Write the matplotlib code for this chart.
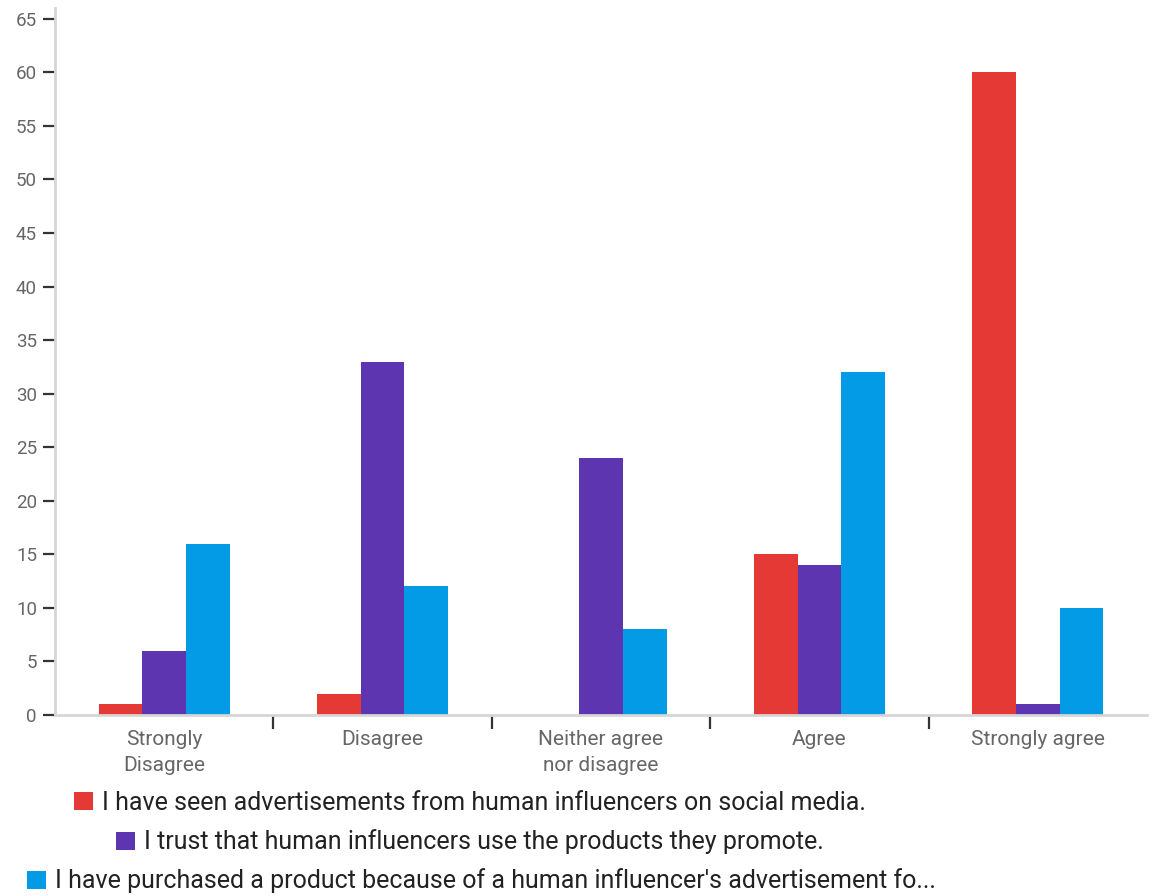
import matplotlib
matplotlib.use("Agg")
import matplotlib.pyplot as plt
import numpy as np
from matplotlib.patches import Patch

plt.rcParams['font.family'] = ['Roboto', 'DejaVu Sans']

categories = ["Strongly\nDisagree", "Disagree", "Neither agree\nnor disagree", "Agree", "Strongly agree"]
series_names = [
    "I have seen advertisements from human influencers on social media.",
    "I trust that human influencers use the products they promote.",
    "I have purchased a product because of a human influencer's advertisement fo...",
]
seen_ads = [1, 2, 0, 15, 60]
trust_use = [6, 33, 24, 14, 1]
purchased = [16, 12, 8, 32, 10]
colors = ["#E53935", "#5E35B1", "#039BE5"]

fig = plt.figure(figsize=(11.52, 8.96), dpi=100)
ax = fig.add_axes([55 / 1152, 1 - 715 / 896, (1147 - 55) / 1152, (715 - 8) / 896])

x = np.arange(len(categories))
w = 0.2
for i, vals in enumerate([seen_ads, trust_use, purchased]):
    ax.bar(x + (i - 1) * w, vals, width=w, color=colors[i], linewidth=0)

ax.set_xlim(-0.5, len(categories) - 0.5)
ax.set_ylim(0, 66)
ax.set_yticks(np.arange(0, 66, 5))
ax.set_xticks(x)
ax.set_xticklabels(categories, linespacing=1.45)
ax.set_xticks(np.arange(0.5, len(categories) - 0.5, 1), minor=True)

for s in ["top", "right"]:
    ax.spines[s].set_visible(False)
for s in ["left", "bottom"]:
    ax.spines[s].set_color("#d6d6d6")
    ax.spines[s].set_linewidth(2)

ax.tick_params(axis="y", length=9, width=1.6, color="#333333", labelcolor="#666666",
               labelsize=13.5, pad=4)
ax.tick_params(axis="x", which="major", length=0, labelcolor="#666666", labelsize=15, pad=11)
ax.tick_params(axis="x", which="minor", length=10, width=1.6, color="#333333")

legend_pos = [(0.408, 1 - 803 / 896), (0.408, 1 - 842 / 896), (0.418, 1 - 881 / 896)]
for name, col, pos in zip(series_names, colors, legend_pos):
    fig.legend(handles=[Patch(facecolor=col, edgecolor="none")], labels=[name],
               loc="center", bbox_to_anchor=pos, frameon=False, fontsize=18,
               handlelength=0.75, handleheight=0.75, handletextpad=0.35,
               borderpad=0, labelcolor="#222222")

fig.savefig("out.png", dpi=100)
